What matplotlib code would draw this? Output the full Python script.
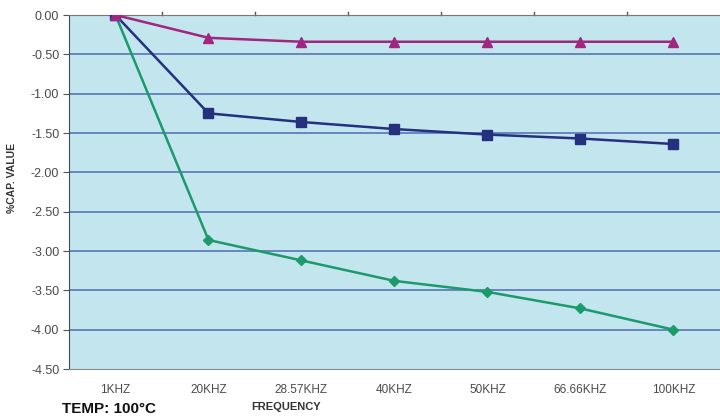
import matplotlib.pyplot as plt
import numpy as np

plt.rcParams['font.family'] = ['Liberation Sans', 'DejaVu Sans']

# capacitance change vs frequency @ 100C
freqs = ['1KHZ', '20KHZ', '28.57KHZ', '40KHZ', '50KHZ', '66.66KHZ', '100KHZ']
pink_vals = [0.0, -0.29, -0.34, -0.34, -0.34, -0.34, -0.34]
blue_vals = [0.0, -1.25, -1.36, -1.45, -1.52, -1.57, -1.64]
green_vals = [0.0, -2.86, -3.12, -3.38, -3.52, -3.73, -4.00]
yticks = np.arange(0, -4.51, -0.5)

fig = plt.figure(figsize=(7.2, 4.19), dpi=100)
ax = fig.add_axes([0.0958, 0.1193, 0.9042, 0.8449])
ax.set_facecolor('#c3e5ee')

x = np.arange(len(freqs))
for v in yticks[1:-1]:
    ax.axhline(v, color='#4d6cb3', lw=1.1, zorder=1)

ax.plot(x, green_vals, color='#1b9a6c', lw=1.8, marker='D', ms=5, zorder=3)
ax.plot(x, blue_vals, color='#25307f', lw=1.8, marker='s', ms=6.5, zorder=4)
ax.plot(x, pink_vals, color='#a0267f', lw=1.8, marker='^', ms=7, zorder=5)

ax.set_xlim(-0.5, len(freqs) - 0.5)
ax.set_ylim(-4.5, 0)
ax.set_yticks(yticks)
ax.set_yticklabels([f'{v:.2f}' for v in yticks], color='#4a4a4a', fontsize=9)
ax.set_xticks(x)
ax.set_xticklabels(freqs, color='#4a4a4a', fontsize=8.5,
                   family=['Liberation Sans Narrow', 'Liberation Sans'])
ax.tick_params(axis='x', length=0, pad=11)
ax.tick_params(axis='y', length=4, color='#555555', pad=3)

# category boundary ticks on the top axis
for b in np.arange(0.5, len(freqs) - 1, 1.0):
    ax.plot([b, b], [0, 0.04], color='#555555', lw=1, clip_on=False)

ax.spines['right'].set_visible(False)
ax.spines['left'].set_color('#404a50')
ax.spines['top'].set_color('#777777')
ax.spines['bottom'].set_color('#888888')

fig.text(0.017, 0.575, '%CAP. VALUE', rotation=90, fontsize=7.5, fontweight='bold',
         color='#333333', va='center', ha='center')
fig.text(0.398, 0.022, 'FREQUENCY', fontsize=8, fontweight='bold', color='#333333', ha='center')
fig.text(0.086, 0.015, 'TEMP: 100\u00b0C', fontsize=11, fontweight='bold', color='#111111')

fig.savefig('out.png', dpi=100)
